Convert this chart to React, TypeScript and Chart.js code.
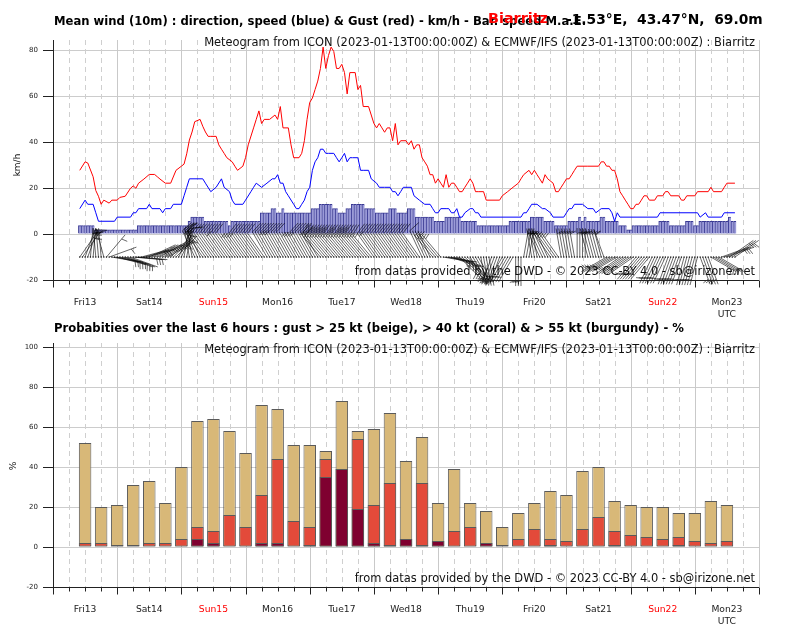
import { useEffect, useRef } from "react";
import { Chart, registerables } from "chart.js";

Chart.register(...registerables);

const FONT = "'DejaVu Sans', 'Liberation Sans', sans-serif";
Chart.defaults.font.family = FONT;

// ---------- time axis (hours since 2023-01-13T00:00Z) ----------
const hourMin = 0;
const hourMax = 264;
const dayLabels = ["Fri13", "Sat14", "Sun15", "Mon16", "Tue17", "Wed18", "Thu19", "Fri20", "Sat21", "Sun22", "Mon23"];
const sundayLabels = ["Sun15", "Sun22"];
const timeZoneLabel = "UTC";

// ---------- axis ticks ----------
const topYTicks = [-20, 0, 20, 40, 60, 80];
const bottomYTicks = [-20, 0, 20, 40, 60, 80, 100];

// ---------- texts ----------
const topTitle = "Mean wind (10m) : direction, speed (blue) & Gust (red) - km/h - Bar. speed M.a.E.";
const placeName = "Biarritz";
const placeCoords = "-1.53°E,  43.47°N,  69.0m";
const sourceLine = "Meteogram from ICON (2023-01-13T00:00:00Z) & ECMWF/IFS (2023-01-13T00:00:00Z) : Biarritz";
const creditLine = "from datas provided by the DWD - © 2023 CC-BY 4.0 - sb@irizone.net";
const bottomTitle = "Probabities over the last 6 hours : gust > 25 kt (beige), > 40 kt (coral) & > 55 kt (burgundy) - %";
const topYTitle = "km/h";
const bottomYTitle = "%";

// ---------- top chart: gust (red) ----------
const gustHours = [10, 12, 13, 15, 16, 17, 18, 19, 21, 22, 24, 25, 27, 29, 30, 31, 32, 34, 36, 38, 39, 40, 42, 44, 46, 48, 49, 50, 51, 52, 53, 55, 56, 57, 58, 59, 61, 62, 63, 64, 65, 67, 68, 69, 71, 72, 73, 75, 76, 77, 78, 79, 81, 83, 84, 85, 86, 88, 89, 90, 92, 93, 94, 95, 96, 97, 98, 99, 100, 101, 102, 103, 104, 105, 106, 107, 108, 109, 110, 111, 113, 114, 115, 116, 118, 119, 120, 121, 122, 123, 124, 125, 126, 127, 128, 129, 130, 132, 133, 134, 135, 136, 137, 138, 139, 140, 141, 142, 143, 144, 145, 146, 147, 148, 149, 150, 151, 152, 153, 154, 155, 156, 157, 158, 159, 161, 162, 167, 168, 170, 172, 174, 175, 176, 178, 179, 180, 181, 182, 183, 184, 185, 187, 188, 189, 190, 191, 192, 193, 194, 195, 196, 200, 204, 205, 206, 207, 208, 209, 210, 211, 212, 213, 214, 215, 216, 217, 218, 219, 220, 221, 222, 223, 225, 226, 228, 229, 230, 231, 234, 235, 236, 237, 240, 241, 245, 246, 247, 250, 251, 252, 255];
const gustKmh = [27.8, 31.5, 31, 25, 19, 16.5, 13, 14.8, 13.5, 14.8, 14.8, 16, 16.5, 20, 21, 20, 22.2, 24, 26, 26, 25, 24, 22.2, 22.2, 27.8, 29.6, 30.5, 35, 41, 44.5, 49, 50, 47, 44.5, 42.6, 42.6, 42.6, 38.9, 37, 35.2, 33.3, 31.5, 29.6, 27.8, 29.6, 33.3, 38.9, 46.3, 50, 53.7, 48.2, 50, 50, 51.9, 50, 55.6, 46.3, 46.3, 38.9, 33.3, 33.3, 35.2, 40.7, 50, 57.4, 59.3, 63, 66.7, 72.2, 81.5, 72.2, 77.8, 81.5, 79.6, 72.2, 72.2, 74, 70.4, 61.1, 70.4, 70.4, 63, 64.8, 55.6, 55.6, 51.9, 48.2, 46.3, 48.2, 46.3, 44.4, 46.3, 46.3, 40.7, 48.2, 38.9, 40.7, 40.7, 38.9, 40.7, 37, 38.9, 38.9, 33.3, 31.5, 29.6, 25.9, 25.9, 22.2, 24.1, 22.2, 20.4, 25.9, 20.4, 22.2, 22.2, 20.4, 18.5, 18.5, 20.4, 22.2, 24.1, 22.2, 18.5, 18.5, 18.5, 14.8, 14.8, 16.7, 18.5, 20.4, 22.2, 24.1, 25.9, 27.8, 25.9, 27.8, 25.9, 24.1, 22.2, 25.9, 24.1, 22.2, 18.5, 18.5, 20.4, 22.2, 24.1, 24.1, 25.9, 27.8, 29.6, 29.6, 29.6, 31.5, 31.5, 29.6, 29.6, 27.8, 27.8, 24.1, 18.5, 16.7, 14.8, 13, 11.1, 11.1, 13, 13, 14.8, 16.7, 16.7, 14.8, 14.8, 16.7, 16.7, 18.5, 18.5, 16.7, 16.7, 14.8, 14.8, 16.7, 16.7, 18.5, 18.5, 20.4, 18.5, 18.5, 20.4, 22.2, 22.2];

// ---------- top chart: mean wind (blue) ----------
const windHours = [10, 12, 13, 15, 16, 17, 23, 24, 29, 30, 31, 32, 35, 36, 37, 40, 41, 42, 44, 45, 48, 49, 50, 51, 56, 57, 59, 61, 63, 64, 66, 67, 68, 71, 72, 74, 75, 76, 78, 80, 82, 83, 84, 85, 86, 87, 88, 90, 91, 92, 93, 94, 95, 96, 97, 98, 99, 100, 101, 102, 103, 105, 106, 107, 108, 109, 110, 111, 112, 114, 115, 116, 118, 119, 121, 122, 124, 126, 127, 128, 129, 130, 131, 132, 134, 135, 137, 139, 141, 142, 143, 144, 145, 147, 148, 149, 150, 151, 152, 153, 154, 156, 157, 158, 159, 160, 175, 176, 177, 178, 179, 181, 183, 184, 186, 187, 191, 192, 193, 194, 195, 198, 200, 202, 203, 205, 208, 209, 210, 211, 212, 226, 227, 241, 242, 244, 245, 250, 251, 255];
const windKmh = [11.1, 14.8, 13, 13, 9.3, 5.6, 5.6, 7.4, 7.4, 9.3, 9.3, 11.1, 11.1, 13, 11.1, 11.1, 9.3, 11.1, 11.1, 13, 13, 16.7, 20.4, 24.1, 24.1, 22.2, 18.5, 20.4, 24.1, 20.4, 18.5, 14.8, 13, 13, 14.8, 18.5, 20.4, 22.2, 20.4, 22.2, 24.1, 24.1, 25.9, 22.2, 22.2, 18.5, 16.7, 13, 11.1, 11.1, 13, 14.8, 18.5, 20.4, 27.8, 31.5, 33.3, 37, 37, 35.2, 35.2, 35.2, 33.3, 31.5, 33.3, 35.2, 31.5, 33.3, 33.3, 33.3, 27.8, 27.8, 27.8, 24.1, 22.2, 20.4, 20.4, 20.4, 18.5, 18.5, 16.7, 18.5, 20.4, 20.4, 20.4, 16.7, 14.8, 13, 13, 11.1, 9.3, 9.3, 11.1, 11.1, 11.1, 9.3, 9.3, 11.1, 7.4, 7.4, 9.3, 11.1, 11.1, 9.3, 9.3, 7.4, 7.4, 9.3, 9.3, 11.1, 13, 13, 11.1, 11.1, 9.3, 7.4, 7.4, 9.3, 11.1, 11.1, 13, 13, 11.1, 11.1, 9.3, 11.1, 11.1, 9.3, 5.6, 9.3, 7.4, 7.4, 9.3, 9.3, 7.4, 9.3, 7.4, 7.4, 9.3, 9.3];

// ---------- top chart: bars (runs of equal hourly values) ----------
const barRunStart = [10, 16, 32, 51, 52, 57, 66, 67, 78, 82, 84, 86, 87, 92, 97, 100, 105, 107, 110, 112, 117, 121, 126, 129, 133, 136, 143, 147, 153, 159, 171, 179, 184, 188, 193, 197, 198, 199, 200, 205, 207, 212, 215, 217, 227, 231, 237, 240, 242, 253, 254];
const barRunEnd = [15, 31, 50, 51, 56, 65, 66, 77, 81, 83, 85, 86, 91, 96, 99, 104, 106, 109, 111, 116, 120, 125, 128, 132, 135, 142, 146, 152, 158, 170, 178, 183, 187, 192, 196, 197, 198, 199, 204, 206, 211, 214, 216, 226, 230, 236, 239, 241, 252, 253, 255];
const barRunKmh = [3.7, 1.85, 3.7, 5.6, 7.4, 5.6, 3.7, 5.6, 9.3, 11.1, 9.3, 11.1, 9.3, 9.3, 11.1, 13, 11.1, 9.3, 11.1, 13, 11.1, 9.3, 11.1, 9.3, 11.1, 7.4, 5.6, 7.4, 5.6, 3.7, 5.6, 7.4, 5.6, 3.7, 5.6, 7.4, 5.6, 7.4, 5.6, 7.4, 5.6, 3.7, 1.85, 3.7, 5.6, 3.7, 5.6, 3.7, 5.6, 7.4, 5.6];

// ---------- top chart: wind direction (deg, where the wind comes from) ----------
const dirHours = [10, 12, 14, 16, 19, 20, 21, 22, 24, 27, 30, 33, 36, 40, 44, 47, 49, 51, 53, 56, 80, 100, 120, 138, 142, 146, 149, 152, 156, 160, 164, 168, 173, 176, 179, 182, 186, 190, 196, 200, 206, 207, 212, 218, 224, 230, 236, 242, 246, 250, 253];
const dirDeg = [35, 20, 5, 355, 345, 40, 70, 100, 105, 110, 95, 75, 65, 60, 45, 25, 10, 350, 335, 325, 330, 320, 325, 335, 320, 100, 110, 135, 150, 170, 200, 210, 180, 10, 350, 335, 325, 350, 0, 345, 340, 240, 235, 220, 205, 200, 195, 160, 120, 70, 55];
const barbFirstHour = 10;
const barbLastHour = 255;
const barbBaseKmh = -10;

// ---------- bottom chart: probabilities (%) ----------
const probHours = [12, 18, 24, 30, 36, 42, 48, 54, 60, 66, 72, 78, 84, 90, 96, 102, 108, 114, 120, 126, 132, 138, 144, 150, 156, 162, 168, 174, 180, 186, 192, 198, 204, 210, 216, 222, 228, 234, 240, 246, 252];
const probGust25 = [52, 20, 21, 31, 33, 22, 40, 63, 64, 58, 47, 71, 69, 51, 51, 48, 73, 58, 59, 67, 43, 55, 22, 39, 22, 18, 10, 17, 22, 28, 26, 38, 40, 23, 21, 20, 20, 17, 17, 23, 21];
const probGust40 = [2, 2, 1, 1, 2, 2, 4, 10, 8, 16, 10, 26, 44, 13, 10, 44, 39, 54, 21, 32, 4, 32, 3, 8, 10, 2, 1, 4, 9, 4, 3, 9, 15, 8, 6, 5, 4, 5, 3, 2, 3];
const probGust55 = [0, 0, 0, 0, 0, 0, 0, 4, 2, 0, 0, 2, 2, 0, 1, 35, 39, 19, 2, 1, 4, 1, 3, 0, 0, 2, 0, 0, 0, 1, 0, 0, 0, 1, 0, 0, 0, 1, 0, 0, 0];

// ---------- helpers ----------
function stepAt(hs: number[], vs: number[], h: number) {
  let v = vs[0];
  for (let i = 0; i < hs.length; i++) {
    if (hs[i] <= h) v = vs[i];
    else break;
  }
  return v;
}

function fitSize(ctx: CanvasRenderingContext2D, text: string, weight: string, target: number) {
  ctx.font = `${weight} 100px ${FONT}`;
  return (100 * target) / ctx.measureText(text).width;
}

function drawTimeGrid(chart: any) {
  const { ctx, chartArea: a } = chart;
  const xs = chart.scales.x;
  ctx.save();
  ctx.lineWidth = 1;
  for (let h = hourMin + 6; h <= hourMax; h += 6) {
    const px = Math.round(xs.getPixelForValue(h)) + 0.5;
    const day = h % 24 === 0;
    ctx.strokeStyle = day ? "#c9c9c9" : "#cfcfcf";
    ctx.setLineDash(day ? [] : [5, 4]);
    ctx.beginPath();
    ctx.moveTo(px, a.top);
    ctx.lineTo(px, a.bottom);
    ctx.stroke();
  }
  ctx.restore();
}

function drawTimeAxis(chart: any, labelY: number, utcY: number) {
  const { ctx, chartArea: a } = chart;
  const xs = chart.scales.x;
  ctx.save();
  ctx.strokeStyle = "#222";
  ctx.lineWidth = 1;
  const by = Math.round(a.bottom) + 0.5;
  ctx.beginPath();
  ctx.moveTo(a.left, by);
  ctx.lineTo(a.right, by);
  for (let h = hourMin; h <= hourMax; h += 6) {
    const px = Math.round(xs.getPixelForValue(h)) + 0.5;
    const len = h % 24 === 0 ? 7 : 4;
    ctx.moveTo(px, by);
    ctx.lineTo(px, by + len);
  }
  ctx.stroke();
  ctx.font = `9.2px ${FONT}`;
  ctx.textAlign = "center";
  ctx.textBaseline = "middle";
  dayLabels.forEach((lab, i) => {
    const px = xs.getPixelForValue(i * 24 + 12);
    ctx.fillStyle = sundayLabels.includes(lab) ? "#ff0000" : "#222";
    ctx.fillText(lab, px, labelY);
  });
  ctx.fillStyle = "#222";
  ctx.fillText(timeZoneLabel, xs.getPixelForValue((dayLabels.length - 1) * 24 + 12), utcY);
  ctx.restore();
}

function drawYTitle(ctx: CanvasRenderingContext2D, text: string, x: number, y: number) {
  ctx.save();
  ctx.translate(x, y);
  ctx.rotate(-Math.PI / 2);
  ctx.font = `9px ${FONT}`;
  ctx.fillStyle = "#111";
  ctx.textAlign = "center";
  ctx.textBaseline = "middle";
  ctx.fillText(text, 0, 0);
  ctx.restore();
}

function drawSourceTexts(chart: any, srcY: number, creditY: number) {
  const { ctx } = chart;
  ctx.save();
  const s = fitSize(ctx, sourceLine, "normal", 551);
  ctx.font = `${s}px ${FONT}`;
  ctx.fillStyle = "#111";
  ctx.textAlign = "right";
  ctx.textBaseline = "middle";
  ctx.fillText(sourceLine, 755, srcY);
  ctx.fillText(creditLine, 755, creditY);
  ctx.restore();
}

function titleSize(ctx: CanvasRenderingContext2D) {
  return fitSize(ctx, bottomTitle, "bold", 631);
}

function yAxisOptions(min: number, max: number, tickValues: number[]) {
  return {
    type: "linear",
    min,
    max,
    afterFit: (s: any) => {
      s.width = 53;
    },
    afterBuildTicks: (s: any) => {
      s.ticks = tickValues.map((v) => ({ value: v }));
    },
    ticks: { font: { family: FONT, size: 7 }, color: "#222", padding: 5 },
    grid: { color: "#cccccc", lineWidth: 1, tickLength: 10, tickColor: "#222", drawTicks: true },
    border: { display: true, color: "#222", width: 1 },
  };
}

const xAxisOptions = {
  type: "linear",
  min: hourMin,
  max: hourMax,
  offset: false,
  display: false,
  grid: { offset: false },
};

// ---------- top chart ----------
function topConfig(): any {
  const barData: { x: number; y: number }[] = [];
  barRunStart.forEach((s, i) => {
    for (let h = s; h <= barRunEnd[i]; h++) barData.push({ x: h, y: barRunKmh[i] });
  });
  const plugin = {
    id: "topDecor",
    beforeDatasetsDraw(chart: any) {
      drawTimeGrid(chart);
    },
    afterDatasetsDraw(chart: any) {
      const { ctx } = chart;
      const xs = chart.scales.x;
      const ys = chart.scales.y;
      const y0 = ys.getPixelForValue(barbBaseKmh);
      const L = 29;
      const fh = 0.4 * L;
      const fw = 0.25 * L;
      const sp = 0.125 * L;
      ctx.save();
      ctx.strokeStyle = "rgba(0,0,0,0.85)";
      ctx.lineWidth = 0.7;
      for (let h = barbFirstHour; h <= barbLastHour; h++) {
        const px = xs.getPixelForValue(h);
        const th = (stepAt(dirHours, dirDeg, h) * Math.PI) / 180;
        const ux = Math.sin(th);
        const uy = -Math.cos(th);
        const qx = -uy;
        const qy = ux;
        const kt = stepAt(windHours, windKmh, h) / 1.852;
        const mag = 5 * Math.floor(kt / 5 + 0.5);
        const nFull = Math.floor(mag / 10);
        const half = mag % 10 >= 5;
        ctx.beginPath();
        ctx.moveTo(px, y0);
        ctx.lineTo(px + ux * L, y0 + uy * L);
        let off = L;
        for (let i = 0; i < nFull; i++) {
          const sx = px + ux * off;
          const sy = y0 + uy * off;
          ctx.moveTo(sx, sy);
          ctx.lineTo(sx + qx * fh + (ux * fw) / 2, sy + qy * fh + (uy * fw) / 2);
          off -= sp;
        }
        if (half) {
          if (off === L) off -= 1.5 * sp;
          const sx = px + ux * off;
          const sy = y0 + uy * off;
          ctx.moveTo(sx, sy);
          ctx.lineTo(sx + (qx * fh) / 2 + (ux * fw) / 4, sy + (qy * fh) / 2 + (uy * fw) / 4);
        }
        ctx.stroke();
        ctx.fillStyle = "#000";
        ctx.fillRect(px - 0.6, y0 - 0.6, 1.2, 1.2);
      }
      ctx.restore();
    },
    afterDraw(chart: any) {
      const { ctx } = chart;
      drawTimeAxis(chart, 302.7, 314.5);
      drawYTitle(ctx, topYTitle, 18, 165);
      drawSourceTexts(chart, 43.5, 272);
      ctx.save();
      const ts = titleSize(ctx);
      ctx.textBaseline = "middle";
      ctx.textAlign = "left";
      ctx.fillStyle = "#000";
      ctx.font = `bold ${ts}px ${FONT}`;
      ctx.fillText(topTitle, 54, 21.5);
      const ps = fitSize(ctx, placeName, "bold", 60);
      ctx.font = `bold ${ps}px ${FONT}`;
      ctx.fillStyle = "#ff0000";
      ctx.fillText(placeName, 488, 19);
      const cs = fitSize(ctx, placeCoords, "bold", 197);
      ctx.font = `bold ${cs}px ${FONT}`;
      ctx.fillStyle = "#000";
      ctx.fillText(placeCoords, 566, 20);
      ctx.restore();
    },
  };
  return {
    type: "line",
    data: {
      datasets: [
        {
          type: "line",
          data: gustHours.map((h, i) => ({ x: h, y: gustKmh[i] })),
          borderColor: "#ff0000",
          borderWidth: 1,
          pointRadius: 0,
          tension: 0,
          order: 0,
        },
        {
          type: "line",
          data: windHours.map((h, i) => ({ x: h, y: windKmh[i] })),
          borderColor: "#0000ff",
          borderWidth: 1,
          pointRadius: 0,
          tension: 0,
          order: 1,
        },
        {
          type: "bar",
          data: barData,
          backgroundColor: "#9b9bd8",
          borderColor: "#3a3a94",
          borderWidth: { left: 1, right: 0, top: 1, bottom: 0 },
          borderSkipped: false,
          barPercentage: 1,
          categoryPercentage: 1,
          order: 2,
        },
      ],
    },
    options: {
      responsive: false,
      animation: false,
      events: [],
      layout: { padding: { left: 0, right: 41, top: 40, bottom: 40 } },
      plugins: { legend: { display: false }, tooltip: { enabled: false }, title: { display: false } },
      scales: {
        x: xAxisOptions,
        y: yAxisOptions(-20, 84.6, topYTicks),
      },
    },
    plugins: [plugin],
  };
}

// ---------- bottom chart ----------
function bottomConfig(): any {
  const plugin = {
    id: "bottomDecor",
    beforeDatasetsDraw(chart: any) {
      drawTimeGrid(chart);
    },
    afterDraw(chart: any) {
      const { ctx } = chart;
      drawTimeAxis(chart, 289.5, 301.7);
      drawYTitle(ctx, bottomYTitle, 14, 146);
      drawSourceTexts(chart, 30, 259.5);
      ctx.save();
      const ts = titleSize(ctx);
      ctx.font = `bold ${ts}px ${FONT}`;
      ctx.fillStyle = "#000";
      ctx.textAlign = "left";
      ctx.textBaseline = "middle";
      ctx.fillText(bottomTitle, 54, 8.7);
      ctx.restore();
    },
  };
  const common = {
    type: "bar",
    borderColor: "#5a5a5a",
    borderWidth: 1,
    borderSkipped: false,
    barPercentage: 0.78,
    categoryPercentage: 1,
    grouped: false,
  };
  return {
    type: "bar",
    data: {
      datasets: [
        { ...common, data: probHours.map((h, i) => ({ x: h, y: probGust55[i] })), backgroundColor: "#7f0030", order: 0 },
        { ...common, data: probHours.map((h, i) => ({ x: h, y: probGust40[i] })), backgroundColor: "#e34a3a", order: 1 },
        { ...common, data: probHours.map((h, i) => ({ x: h, y: probGust25[i] })), backgroundColor: "#d8b878", order: 2 },
      ],
    },
    options: {
      responsive: false,
      animation: false,
      events: [],
      layout: { padding: { left: 0, right: 41, top: 23, bottom: 53 } },
      plugins: { legend: { display: false }, tooltip: { enabled: false }, title: { display: false } },
      scales: {
        x: xAxisOptions,
        y: yAxisOptions(-20, 102, bottomYTicks),
      },
    },
    plugins: [plugin],
  };
}

export default function App() {
  const topRef = useRef<HTMLCanvasElement>(null);
  const botRef = useRef<HTMLCanvasElement>(null);
  useEffect(() => {
    const c1 = new Chart(topRef.current as HTMLCanvasElement, topConfig());
    const c2 = new Chart(botRef.current as HTMLCanvasElement, bottomConfig());
    return () => {
      c1.destroy();
      c2.destroy();
    };
  }, []);
  return (
    <div style={{ position: "absolute", left: 0, top: 0, width: 800, height: 640, background: "#fff" }}>
      <canvas ref={topRef} width={800} height={320} style={{ position: "absolute", left: 0, top: 0, width: 800, height: 320 }} />
      <canvas ref={botRef} width={800} height={320} style={{ position: "absolute", left: 0, top: 320, width: 800, height: 320 }} />
    </div>
  );
}
